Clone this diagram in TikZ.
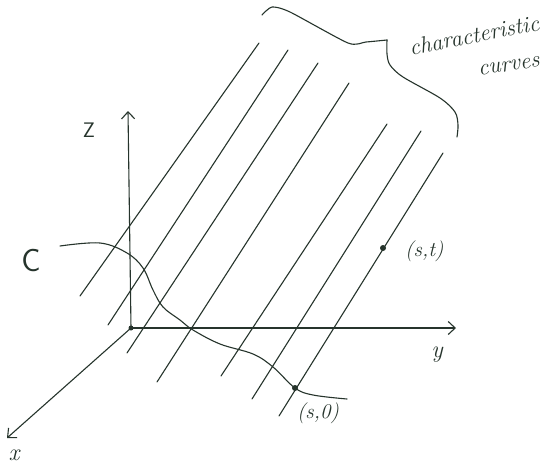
\documentclass[tikz,border=0pt]{standalone}
\usetikzlibrary{arrows.meta}
\definecolor{ink}{RGB}{38,52,44}
\newcommand{\fsz}[1]{\fontsize{#1}{#1}\selectfont}
\begin{document}
\begin{tikzpicture}[x=1pt,y=-1pt,
  pen/.style={draw=ink,line width=1.1pt,line cap=round,line join=round},
  axis/.style={pen,-{Straight Barb[length=7pt,width=13pt,line width=1.1pt]}},
  lbl/.style={text=ink,inner sep=0pt},
  dotmark/.style={circle,fill=ink,inner sep=0pt,minimum size=6pt}]
\useasboundingbox (0,0) rectangle (552,472);
\fill[white] (0,0) rectangle (552,472);
% axes
\coordinate (O) at (131,328);
\coordinate (zend) at (128,111);
\coordinate (yend) at (456,328);
\coordinate (xend) at (7,438);
\draw[axis] (O) -- (zend);
\draw[axis] (O) -- (yend);
\draw[axis] (O) -- (xend);
\fill[ink] (O) circle (2.5pt);
% characteristic lines
\foreach \i/\tx/\ty/\bx/\by in {1/259/43/80/296, 2/288/50/108/325, 3/318/63/127/353, 4/349/83/157/382, 5/387/124/221/376, 6/421/131/252/399, 7/443/153/279/416}{
  \coordinate (t\i) at (\tx,\ty);
  \coordinate (b\i) at (\bx,\by);
  \draw[pen] (b\i) -- (t\i);
}
% curve C
\draw[pen] plot[smooth,tension=0.6] coordinates {(60,246) (100,243) (127,253) (143,268) (153,290) (163,307) (180,320) (193,330) (220,344) (253,354) (273,367) (295,388) (313,395) (347,399)};
% points
\node[dotmark] (s0) at (295,388) {};
\node[dotmark] (st) at (383,248) {};
% brace
\draw[pen] plot[smooth,tension=0.4] coordinates {(262,15) (272,7) (290,12) (348,43) (366,42) (387,40)};
\draw[pen] plot[smooth,tension=0.5] coordinates {(387,40) (387,54) (390,65) (403,77) (440,98) (455,112) (458,125) (457,137)};
% labels
\node[lbl,font=\fsz{32}\sffamily] (Clbl) at (31,261) {C};
\node[lbl,font=\fsz{21}\sffamily] (Zlbl) at (89,130) {Z};
\node[lbl,font=\fsz{24}\itshape] (xlbl) at (14,455) {x};
\node[lbl,font=\fsz{24}\itshape] (ylbl) at (437,355) {y};
\node[lbl,font=\fsz{21}\itshape,anchor=west] (stlbl) at (405,251) {(s,t)};
\node[lbl,font=\fsz{21}\itshape] (s0lbl) at (318,413) {(s,0)};
\node[lbl,font=\fsz{23}\itshape,rotate=11] (ch1) at (474,35) {characteristic};
\node[lbl,font=\fsz{23}\itshape,rotate=8] (ch2) at (509,66) {curves};
\end{tikzpicture}
\end{document}
